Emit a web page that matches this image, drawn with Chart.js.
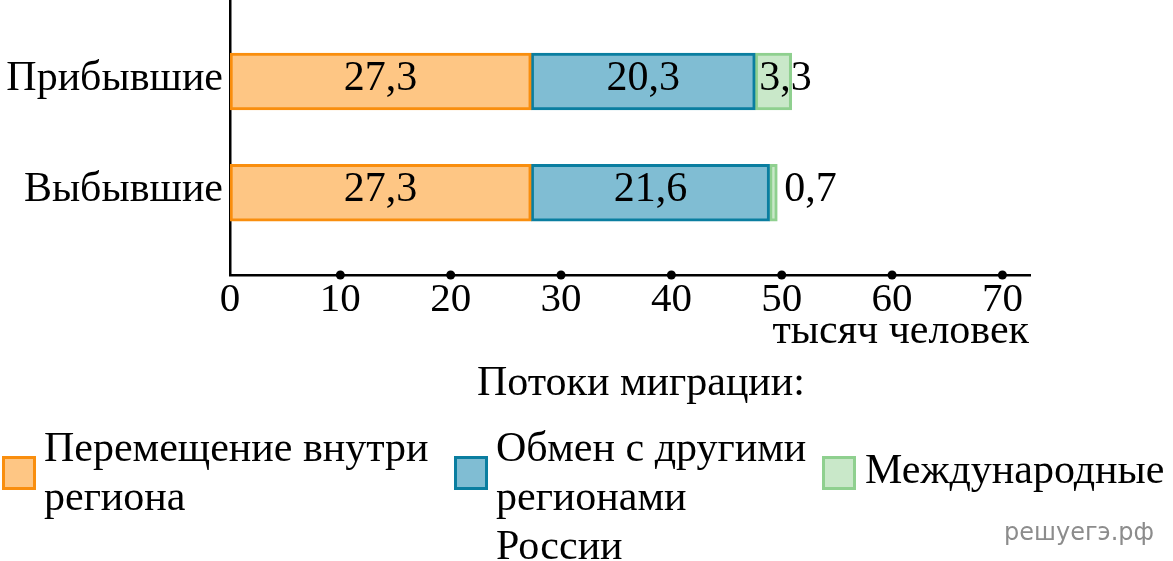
<!DOCTYPE html>
<html lang="ru">
<head>
<meta charset="UTF-8">
<title>Потоки миграции</title>
<script src="https://cdn.jsdelivr.net/npm/chart.js"></script>
<style>
    body { margin: 0; background: #fff; overflow: hidden; }
    #wrap { position: relative; width: 1173px; height: 561px; font-family: 'Liberation Serif', 'Times New Roman', serif; color: #000; }
    #wrap canvas { position: absolute; left: 0; top: 0; }
    .txt { position: absolute; font-size: 42px; line-height: 40px; white-space: nowrap; }
    .leg-box { position: absolute; width: 34px; height: 34px; box-sizing: border-box; border: 3px solid; }
    .leg-text { position: absolute; font-size: 42px; line-height: 49px; white-space: nowrap; }
    #watermark { position: absolute; left: 1004px; top: 520px; font-family: 'DejaVu Sans', sans-serif; font-size: 24px; line-height: 24px; color: #8c8c8c; }
</style>
</head>
<body>
<div id="wrap">
    <canvas id="migrChart" width="1173" height="561"></canvas>
    <div class="txt" style="right:144px; top:309px;">тысяч человек</div>
    <div class="txt" style="left:477px; top:361px;">Потоки миграции:</div>
    <div id="legend"></div>
    <div id="watermark">решуегэ.рф</div>
</div>

<script>
// данные с рисунка
const categories = ['Прибывшие', 'Выбывшие'];
const seriesNames = [['Перемещение внутри', 'региона'], ['Обмен с другими', 'регионами', 'России'], ['Международные']];
const vnutriRegiona = [27.3, 27.3];
const obmenRegiony = [20.3, 21.6];
const mezhdunarodnye = [3.3, 0.7];
const xTicks = [0, 10, 20, 30, 40, 50, 60, 70];

const fills = ['#fec684', '#80bdd3', '#c9e8c9'];
const borders = ['#f98e0e', '#0a7ea0', '#8fd08f'];

// legend in html (multi-line labels)
const legendPos = [
    { box: [2, 456], text: [44, 423] },
    { box: [454, 456], text: [496, 423] },
    { box: [822, 456], text: [865, 445] }
];
const legend = document.getElementById('legend');
seriesNames.forEach(function(lines, i) {
    const p = legendPos[i];
    legend.insertAdjacentHTML('beforeend',
        `<div class="leg-box" style="left:${p.box[0]}px; top:${p.box[1]}px; background:${fills[i]}; border-color:${borders[i]};"></div>` +
        `<div class="leg-text" style="left:${p.text[0]}px; top:${p.text[1]}px;">${lines.join('<br>')}</div>`);
});

function toPoints(values) {
    return values.map((v, i) => ({ x: v, y: i + 1 }));
}

function fmt(v) {
    return v.toFixed(1).replace('.', ',');
}

// values inside the segments, the small ones go outside
const barLabels = {
    id: 'barLabels',
    afterDatasetsDraw(chart) {
        const ctx = chart.ctx;
        ctx.save();
        ctx.font = '42px "Liberation Serif"';
        ctx.fillStyle = '#000';
        ctx.textBaseline = 'middle';
        chart.data.datasets.forEach(function(ds, di) {
            chart.getDatasetMeta(di).data.forEach(function(bar, i) {
                const v = ds.data[i].x;
                const y = bar.y - 3;
                if (di < 2) {
                    ctx.textAlign = 'center';
                    ctx.fillText(fmt(v), (bar.base + bar.x) / 2, y);
                } else if (v >= 1) {
                    ctx.textAlign = 'left';
                    ctx.fillText(fmt(v), bar.base + 4, y);
                } else {
                    ctx.textAlign = 'left';
                    ctx.fillText(fmt(v), bar.x + 7, y);
                }
            });
        });
        ctx.restore();
    }
};

// black dots on the x axis
const tickDots = {
    id: 'tickDots',
    afterDraw(chart) {
        const ctx = chart.ctx;
        const xs = chart.scales.x;
        ctx.save();
        ctx.fillStyle = '#000';
        xTicks.forEach(function(v) {
            if (v === 0) return;
            ctx.beginPath();
            ctx.arc(xs.getPixelForValue(v), chart.chartArea.bottom, 4.5, 0, Math.PI * 2);
            ctx.fill();
        });
        ctx.restore();
    }
};

Chart.defaults.font.family = "'Liberation Serif', 'Times New Roman', serif";
Chart.defaults.color = '#000';

new Chart(document.getElementById('migrChart'), {
    type: 'bar',
    data: {
        datasets: [
            { label: seriesNames[0].join(' '), data: toPoints(vnutriRegiona) },
            { label: seriesNames[1].join(' '), data: toPoints(obmenRegiony) },
            { label: seriesNames[2].join(' '), data: toPoints(mezhdunarodnye) }
        ].map((ds, i) => Object.assign(ds, {
            backgroundColor: fills[i],
            borderColor: borders[i],
            borderWidth: 3,
            borderSkipped: false,
            barThickness: 57
        }))
    },
    options: {
        indexAxis: 'y',
        responsive: false,
        animation: false,
        layout: { padding: { top: 0, left: 0, right: 143, bottom: 0 } },
        plugins: { legend: { display: false }, tooltip: { enabled: false } },
        scales: {
            x: {
                type: 'linear',
                min: 0,
                max: 72.5,
                stacked: true,
                afterBuildTicks: s => { s.ticks = xTicks.map(v => ({ value: v })); },
                afterFit: s => { s.height = 286; s.paddingLeft = 0; s.paddingRight = 0; },
                ticks: { font: { size: 41 }, padding: 1, maxRotation: 0, autoSkip: false },
                grid: { display: false, drawTicks: false },
                border: { color: '#000', width: 2.5 }
            },
            y: {
                type: 'linear',
                reverse: true,
                offset: false,
                grace: 0,
                bounds: 'data',
                min: 0.267,
                max: 2.74,
                stacked: true,
                afterBuildTicks: s => { s.ticks = categories.map((c, i) => ({ value: i + 1 })); },
                afterFit: s => { s.width = 230; s.paddingTop = 0; s.paddingBottom = 0; },
                ticks: {
                    font: { size: 42 },
                    padding: 7,
                    labelOffset: -3,
                    callback: (v, i) => categories[i]
                },
                grid: { display: false, drawTicks: false },
                border: { color: '#000', width: 2.5 }
            }
        }
    },
    plugins: [barLabels, tickDots]
});
</script>
</body>
</html>
